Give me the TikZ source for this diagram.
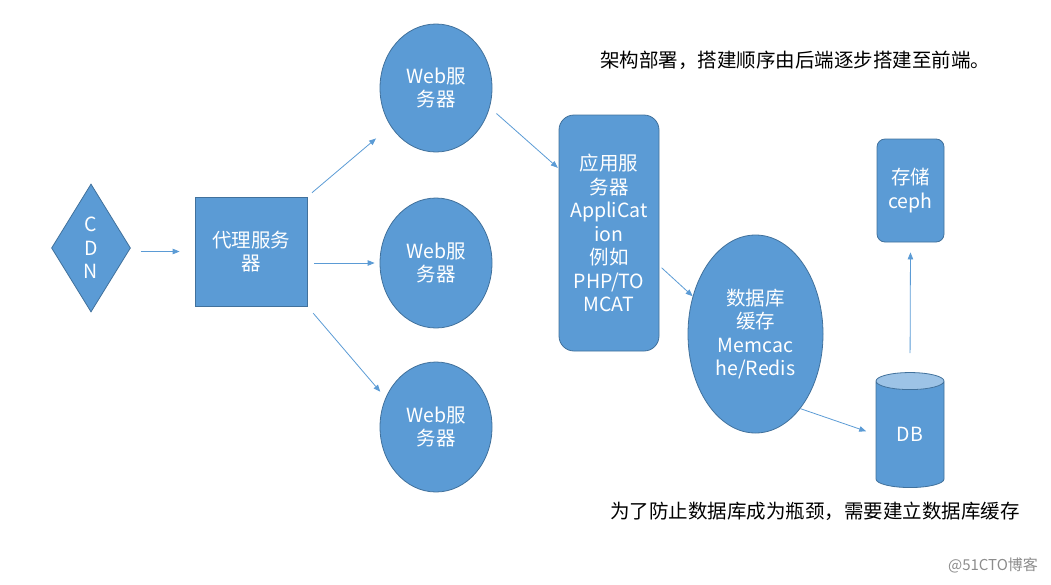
\documentclass[tikz,border=0pt]{standalone}
\usepackage{fontspec}
\setmainfont{Noto Sans CJK SC}
\usetikzlibrary{arrows.meta,shapes.geometric}
\definecolor{office}{HTML}{5B9BD5}
\definecolor{officeline}{HTML}{41719C}
\definecolor{officetop}{HTML}{9DC3E6}

\begin{document}
\begin{tikzpicture}[
  x=1pt, y=-1pt,
  font=\fontsize{19.5}{23.5}\selectfont,
  >={Triangle[length=7pt, width=5.5pt]},
  box/.style={draw=officeline, fill=office, text=white, align=center, inner sep=0pt, line width=0.8pt},
  arrow/.style={->, draw=office, line width=0.8pt}
]
  \useasboundingbox (0,0) rectangle (1051,584);

  \node[box, diamond, aspect=0.6, minimum width=79pt, minimum height=128pt] (cdn) at (91,248) {C\\D\\N};
  \node[box, minimum width=112pt, minimum height=109pt] (proxy) at (251,251.5) {代理服务\\器};
  \node[box, ellipse, minimum width=112pt, minimum height=128pt] (web1) at (436,88) {Web服\\务器};
  \node[box, ellipse, minimum width=112pt, minimum height=130pt] (web2) at (436,263) {Web服\\务器};
  \node[box, ellipse, minimum width=112pt, minimum height=130pt] (web3) at (436,427) {Web服\\务器};
  \node[box, rounded corners=15pt, minimum width=100pt, minimum height=236pt] (app) at (609,233)
    {应用服\\务器\\AppliCat\\ion\\例如\\PHP/TO\\MCAT};
  \node[box, ellipse, minimum width=135pt, minimum height=198pt] (cache) at (755.5,334)
    {数据库\\缓存\\Memcac\\he/Redis};
  \node[box, fill=none, cylinder, shape border rotate=90, aspect=0.65, minimum width=68pt, minimum height=115pt,
    cylinder uses custom fill, cylinder body fill=office, cylinder end fill=officetop] (db) at (910,434.5) {DB};
  \node[box, rounded corners=8pt, minimum width=67pt, minimum height=103pt] (ceph) at (910.5,190.5) {存储\\ceph};

  \node (plan) at (795,60) {架构部署，搭建顺序由后端逐步搭建至前端。};
  \node (note) at (815,511) {为了防止数据库成为瓶颈，需要建立数据库缓存};
  \node[text=black!45, font=\fontsize{15}{18}\selectfont] (mark) at (993,565) {@51CTO博客};

  \draw[arrow, shorten <=10pt, shorten >=15pt] (cdn.east |- proxy.west) -- (proxy.west);
  \draw[arrow, shorten <=6pt, shorten >=19pt] (proxy.north east) -- (web1.-140);
  \draw[arrow, shorten <=7pt, shorten >=5pt] (proxy.east |- web2.west) -- (web2.west);
  \draw[arrow, shorten <=9pt, shorten >=8pt] (proxy.south east) -- (web3.150);
  \draw[arrow, shorten <=9pt, shorten >=1pt] (web1.-20) -- (app.128);
  \draw[arrow, shorten <=3pt] (app.-33) -- (cache.149);
  \draw[arrow, shorten >=10pt] (cache.-59) -- (db.west);
  \draw[arrow, shorten <=19pt, shorten >=10pt] (db.north) -- (ceph.south);
\end{tikzpicture}
\end{document}
